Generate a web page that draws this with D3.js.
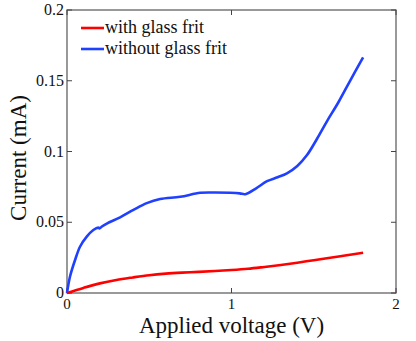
<!DOCTYPE html>
<html>
<head>
<meta charset="utf-8">
<script src="https://cdn.jsdelivr.net/npm/d3@7"></script>
<style>
  body { margin: 0; background: #fff; }
  svg text { font-family: "Liberation Serif", "Times New Roman", "DejaVu Serif", serif; fill: #111; }
</style>
</head>
<body>
<svg id="chart" width="416" height="341"></svg>
<script>
// values
var withVoltage = [0, 0.1, 0.2, 0.3, 0.4, 0.5, 0.6, 0.7, 0.8, 0.9, 1.0, 1.1, 1.2, 1.3, 1.4, 1.5, 1.6, 1.7, 1.8]
var withCurrent = [0, 0.0036, 0.0068, 0.0092, 0.011, 0.0126, 0.0137, 0.0144, 0.0149, 0.0155, 0.0162, 0.0171, 0.0184, 0.0198, 0.0214, 0.0232, 0.0249, 0.0267, 0.0285]

var withoutVoltage = [0, 0.018, 0.049, 0.079, 0.12, 0.16, 0.19, 0.198, 0.21, 0.242, 0.323, 0.404, 0.485, 0.566, 0.688, 0.81, 0.9, 0.992, 1.05, 1.084, 1.15, 1.216, 1.28, 1.337, 1.4, 1.459, 1.52, 1.581, 1.65, 1.72, 1.8]
var withoutCurrent = [0, 0.0115, 0.0233, 0.0327, 0.0398, 0.0445, 0.0462, 0.0457, 0.0468, 0.0491, 0.0535, 0.0587, 0.0635, 0.0664, 0.068, 0.0708, 0.071, 0.0708, 0.0704, 0.0698, 0.074, 0.079, 0.0818, 0.0846, 0.0898, 0.0975, 0.109, 0.1215, 0.1348, 0.1498, 0.1666]

var xTicks = [0, 1, 2]
var yTicks = [0, 0.05, 0.1, 0.15, 0.2]
var yTickLabels = ['0', '0.05', '0.1', '0.15', '0.2']
var legendLabels = ['with glass frit', 'without glass frit']
var seriesColors = ['#ff0000', '#2040ff']

var plotLeft = 67, plotRight = 396, plotTop = 10, plotBottom = 293

var svg = d3.select('#chart')

var xScale = d3.scaleLinear().domain([0, 2]).range([plotLeft, plotRight])
var yScale = d3.scaleLinear().domain([0, 0.2]).range([plotBottom, plotTop])

// frame
svg.append('rect')
    .attr('x', plotLeft).attr('y', plotTop)
    .attr('width', plotRight - plotLeft).attr('height', plotBottom - plotTop)
    .attr('fill', 'none').attr('stroke', '#555').attr('stroke-width', 1.2)

// inward ticks on all four sides
var tickLen = 5
xTicks.forEach(function (t) {
    svg.append('line').attr('x1', xScale(t)).attr('x2', xScale(t))
        .attr('y1', plotBottom).attr('y2', plotBottom - tickLen).attr('stroke', '#444')
    svg.append('line').attr('x1', xScale(t)).attr('x2', xScale(t))
        .attr('y1', plotTop).attr('y2', plotTop + tickLen).attr('stroke', '#444')
    svg.append('text').attr('x', xScale(t)).attr('y', plotBottom + 16)
        .attr('text-anchor', 'middle').style('font-size', '15px').text(t)
})
yTicks.forEach(function (t, i) {
    svg.append('line').attr('x1', plotLeft).attr('x2', plotLeft + tickLen)
        .attr('y1', yScale(t)).attr('y2', yScale(t)).attr('stroke', '#444')
    svg.append('line').attr('x1', plotRight).attr('x2', plotRight - tickLen)
        .attr('y1', yScale(t)).attr('y2', yScale(t)).attr('stroke', '#444')
    svg.append('text').attr('x', plotLeft - 3).attr('y', yScale(t) + 5)
        .attr('text-anchor', 'end').style('font-size', '16px').text(yTickLabels[i])
})

// curves
var line = d3.line()
    .x(function (d) { return xScale(d[0]) })
    .y(function (d) { return yScale(d[1]) })
    .curve(d3.curveCatmullRom.alpha(0.5))

var withData = d3.zip(withVoltage, withCurrent)
var withoutData = d3.zip(withoutVoltage, withoutCurrent)

svg.append('path').datum(withoutData).attr('d', line)
    .attr('fill', 'none').attr('stroke', seriesColors[1]).attr('stroke-width', 2.6)
svg.append('path').datum(withData).attr('d', line)
    .attr('fill', 'none').attr('stroke', seriesColors[0]).attr('stroke-width', 2.6)

// legend
legendLabels.forEach(function (lab, i) {
    var ly = 28 + i * 21
    svg.append('line').attr('x1', 81).attr('x2', 104).attr('y1', ly).attr('y2', ly)
        .attr('stroke', seriesColors[i]).attr('stroke-width', 2.6)
    svg.append('text').attr('x', 105).attr('y', ly + 5)
        .style('font-size', '18px').text(lab)
})

// axis labels
svg.append('text').attr('x', (plotLeft + plotRight) / 2).attr('y', 333)
    .attr('text-anchor', 'middle').style('font-size', '23px').text('Applied voltage (V)')
svg.append('text').attr('transform', 'translate(26,158) rotate(-90)')
    .attr('text-anchor', 'middle').style('font-size', '23px').text('Current (mA)')
</script>
</body>
</html>
